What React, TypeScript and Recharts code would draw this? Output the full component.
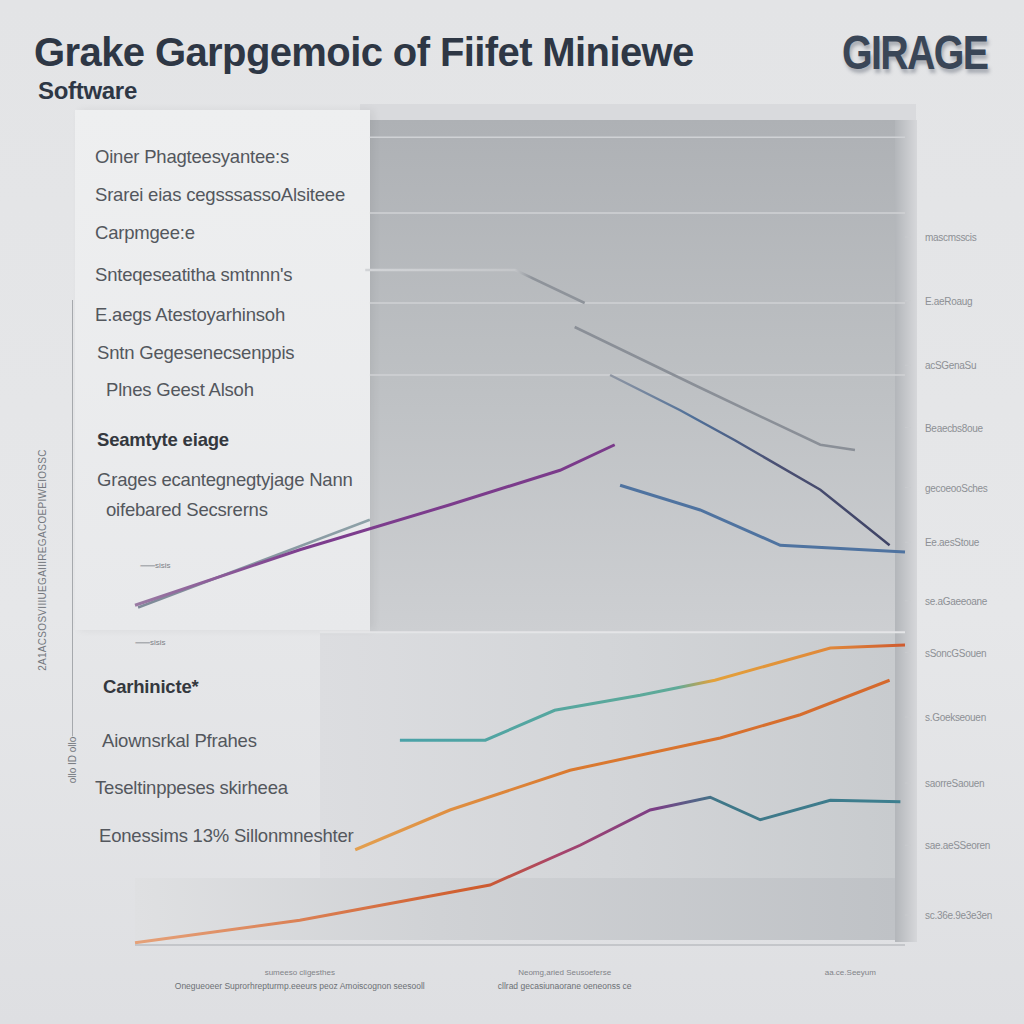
import { LineChart, Line, XAxis, YAxis, ReferenceLine } from 'recharts';

// values (x: 0-100 across the plot, y: 0-110 up the plot)
const greyUpper = [
  { x: 29.9, y: 90 },
  { x: 49.4, y: 90 },
  { x: 58.4, y: 85.6 },
];
const greyLower = [
  { x: 57.1, y: 82.4 },
  { x: 73, y: 74.5 },
  { x: 89, y: 66.7 },
  { x: 93.5, y: 66 },
];
const navyLine = [
  { x: 61.7, y: 76 },
  { x: 70.8, y: 71.3 },
  { x: 77.9, y: 67.3 },
  { x: 89, y: 60.7 },
  { x: 98, y: 53.3 },
];
const blueLine = [
  { x: 63, y: 61.3 },
  { x: 73.4, y: 58 },
  { x: 83.8, y: 53.3 },
  { x: 100, y: 52.4 },
];
const purpleLine = [
  { x: 0, y: 45.3 },
  { x: 21.4, y: 52.7 },
  { x: 40.9, y: 58.7 },
  { x: 55.2, y: 63.3 },
  { x: 62.3, y: 66.7 },
];
const slateLine = [
  { x: 0.4, y: 45 },
  { x: 30.5, y: 56.7 },
];
const tealOrangeLine = [
  { x: 34.4, y: 27.3 },
  { x: 45.5, y: 27.3 },
  { x: 54.5, y: 31.3 },
  { x: 65.6, y: 33.3 },
  { x: 75.3, y: 35.3 },
  { x: 90.3, y: 39.6 },
  { x: 100, y: 40 },
];
const orangeLine = [
  { x: 28.6, y: 12.7 },
  { x: 40.9, y: 18 },
  { x: 56.5, y: 23.3 },
  { x: 76, y: 27.6 },
  { x: 86.4, y: 30.7 },
  { x: 98, y: 35.3 },
];
const bottomLine = [
  { x: 0, y: 0.3 },
  { x: 21.4, y: 3.3 },
  { x: 46.1, y: 8 },
  { x: 57.8, y: 13.3 },
  { x: 66.9, y: 18 },
  { x: 74.7, y: 19.7 },
  { x: 81.2, y: 16.7 },
  { x: 90.3, y: 19.3 },
  { x: 99.4, y: 19.1 },
];

const rightTicks = [4, 13.3, 21.6, 30.4, 39, 45.9, 53.7, 61, 69, 77.3, 85.9, 94.4];
const rightLabels = [
  'sc.36e.9e3e3en',
  'sae.aeSSeoren',
  'saorreSaouen',
  's.Goekseouen',
  'sSoncGSouen',
  'se.aGaeeoane',
  'Ee.aesStoue',
  'gecoeooSches',
  'Beaecbs8oue',
  'acSGenaSu',
  'E.aeRoaug',
  'mascmsscis',
];

const gridLevels = [107.7, 97.6, 85.6, 76];

const bottomTicks = [21.4, 55.8, 92.9];
const bottomTop = ['sumeeso cligesthes', 'Neomg,aried Seusoeferse', 'aa.ce.Seeyum'];
const bottomBottom = [
  'Onegueoeer Suprorhrepturmp.eeeurs peoz Amoiscognon seesooll',
  'cllrad gecasiunaorane oeneonss ce',
  '',
];

const upperLabels = [
  'Oiner Phagteesyantee:s',
  'Srarei eias cegsssassoAlsiteee',
  'Carpmgee:e',
  "Snteqeseatitha smtnnn's",
  'E.aegs Atestoyarhinsoh',
  'Sntn Gegesenecsenppis',
  'Plnes Geest Alsoh',
  'Seamtyte eiage',
  'Grages ecantegnegtyjage Nann',
  'oifebared Secsrerns',
];
const upperTops = [157, 195, 233, 275, 315, 353, 390, 440, 480, 510];
const upperIndent = [95, 95, 95, 95, 95, 97, 106, 97, 97, 106];

const lowerLabels = [
  'Carhinicte*',
  'Aiownsrkal Pfrahes',
  'Teseltinppeses skirheea',
  'Eonessims 13% Sillonmneshter',
];
const lowerTops = [687, 741, 788, 836];
const lowerIndent = [103, 102, 95, 99];

const sans = "'Liberation Sans', Arial, sans-serif";

function RightTick(props: any) {
  const { x, y, payload, index } = props;
  return (
    <text x={x + 12} y={y} dy={4} fontSize={10} fill="#8d9095" fontFamily={sans} letterSpacing={-0.3}>
      {rightLabels[index] ?? payload.value}
    </text>
  );
}

function BottomTick(props: any) {
  const { x, y, index } = props;
  return (
    <g>
      <text x={x} y={y + 22} textAnchor="middle" fontSize={8} fill="#7f8388" fontFamily={sans}>
        {bottomTop[index]}
      </text>
      <text x={x} y={y + 36} textAnchor="middle" fontSize={8.5} fill="#6c7075" fontFamily={sans}>
        {bottomBottom[index]}
      </text>
    </g>
  );
}

function Label({ text, top, left, bold }: { text: string; top: number; left: number; bold?: boolean }) {
  return (
    <div
      style={{
        position: 'absolute',
        left,
        top: top - 11,
        fontFamily: sans,
        fontSize: 18.5,
        lineHeight: '22px',
        color: bold ? '#34383e' : '#53575d',
        fontWeight: bold ? 600 : 400,
        whiteSpace: 'nowrap',
        letterSpacing: -0.2,
      }}
    >
      {text}
    </div>
  );
}

export default function App() {
  return (
    <div
      style={{
        position: 'absolute',
        left: 0,
        top: 0,
        width: 1024,
        height: 1024,
        overflow: 'hidden',
        background: 'linear-gradient(180deg, #e3e4e6 0%, #e6e7e9 60%, #dedfe2 100%)',
      }}
    >
      {/* plot backgrounds */}
      <div
        style={{
          position: 'absolute',
          left: 360,
          top: 104,
          width: 556,
          height: 18,
          background: '#d9dadd',
        }}
      />
      <div
        style={{
          position: 'absolute',
          left: 370,
          top: 120,
          width: 525,
          height: 512,
          background: 'linear-gradient(180deg, #aeb1b5 0%, #bdc0c3 50%, #cdcfd2 100%)',
        }}
      />
      <div
        style={{
          position: 'absolute',
          left: 320,
          top: 632,
          width: 575,
          height: 246,
          background: 'linear-gradient(90deg, #dcdde0 0%, #d3d5d8 50%, #c8cbce 100%)',
        }}
      />
      <div
        style={{
          position: 'absolute',
          left: 135,
          top: 878,
          width: 760,
          height: 62,
          background: 'linear-gradient(90deg, #dfe0e2 0%, #d0d2d5 40%, #bfc2c6 100%)',
        }}
      />
      <div
        style={{
          position: 'absolute',
          left: 895,
          top: 120,
          width: 22,
          height: 822,
          background: 'linear-gradient(90deg, #b3b6ba 0%, #d6d7da 100%)',
        }}
      />
      {/* legend panel */}
      <div
        style={{
          position: 'absolute',
          left: 75,
          top: 110,
          width: 295,
          height: 520,
          background: 'linear-gradient(180deg, #eeeff0 0%, #e8e9eb 100%)',
          boxShadow: '4px 0 8px rgba(0,0,0,0.06)',
        }}
      />
      {/* left axis line */}
      <div style={{ position: 'absolute', left: 72, top: 300, width: 1, height: 470, background: '#a6a9ad' }} />

      <LineChart
        width={1024}
        height={1024}
        margin={{ top: 120, right: 19, bottom: 19, left: 135 }}
        style={{ position: 'absolute', left: 0, top: 0 }}
      >
        <defs>
          <linearGradient id="gGreyTop" x1="0" y1="0" x2="1" y2="0">
            <stop offset="0%" stopColor="#d2d4d7" />
            <stop offset="68%" stopColor="#c4c6c9" />
            <stop offset="76%" stopColor="#8e939a" />
            <stop offset="100%" stopColor="#8e939a" />
          </linearGradient>
          <linearGradient id="gNavy" x1="0" y1="0" x2="1" y2="0">
            <stop offset="0%" stopColor="#8f96a3" />
            <stop offset="30%" stopColor="#4f6f98" />
            <stop offset="60%" stopColor="#4a4f72" />
            <stop offset="100%" stopColor="#3f4466" />
          </linearGradient>
          <linearGradient id="gPurple" x1="0" y1="0" x2="1" y2="0">
            <stop offset="0%" stopColor="#9a7aa3" />
            <stop offset="35%" stopColor="#7d3d8e" />
            <stop offset="100%" stopColor="#7a3a8a" />
          </linearGradient>
          <linearGradient id="gTeal" x1="0" y1="0" x2="1" y2="0">
            <stop offset="0%" stopColor="#4aa2a8" />
            <stop offset="55%" stopColor="#5faa98" />
            <stop offset="62%" stopColor="#e3a13a" />
            <stop offset="85%" stopColor="#e0883a" />
            <stop offset="100%" stopColor="#cf5a2e" />
          </linearGradient>
          <linearGradient id="gOrange" x1="0" y1="0" x2="1" y2="0">
            <stop offset="0%" stopColor="#e3a050" />
            <stop offset="40%" stopColor="#da7a30" />
            <stop offset="100%" stopColor="#d5692d" />
          </linearGradient>
          <linearGradient id="gBottom" x1="0" y1="0" x2="1" y2="0">
            <stop offset="0%" stopColor="#e5a27a" />
            <stop offset="45%" stopColor="#cf5c2c" />
            <stop offset="55%" stopColor="#a8446a" />
            <stop offset="68%" stopColor="#7b3e86" />
            <stop offset="76%" stopColor="#3f7788" />
            <stop offset="100%" stopColor="#3d7f8f" />
          </linearGradient>
          <linearGradient id="gSlate" x1="0" y1="0" x2="1" y2="0">
            <stop offset="0%" stopColor="#7e8a98" />
            <stop offset="100%" stopColor="#8ea2a8" />
          </linearGradient>
        </defs>
        <XAxis
          type="number"
          dataKey="x"
          domain={[0, 100]}
          ticks={bottomTicks}
          tick={<BottomTick />}
          tickLine={false}
          axisLine={{ stroke: '#a9acb1' }}
          height={60}
          allowDuplicatedCategory={false}
        />
        <YAxis
          type="number"
          dataKey="y"
          orientation="right"
          domain={[0, 110]}
          ticks={rightTicks}
          tick={<RightTick />}
          tickLine={{ stroke: '#c9cbce' }}
          tickSize={6}
          axisLine={false}
          width={100}
        />
        {gridLevels.map((g) => (
          <ReferenceLine
            key={g}
            segment={[
              { x: 30.5, y: g },
              { x: 100, y: g },
            ]}
            stroke="#d0d2d5"
            strokeWidth={1.5}
          />
        ))}
        <ReferenceLine
          segment={[
            { x: 24, y: 41.7 },
            { x: 100, y: 41.7 },
          ]}
          stroke="#e4e5e7"
          strokeWidth={2}
        />
        <Line data={greyUpper} dataKey="y" stroke="url(#gGreyTop)" strokeWidth={2.5} dot={false} isAnimationActive={false} />
        <Line data={greyLower} dataKey="y" stroke="#8a8f97" strokeWidth={2.5} dot={false} isAnimationActive={false} />
        <Line data={navyLine} dataKey="y" stroke="url(#gNavy)" strokeWidth={2.5} dot={false} isAnimationActive={false} />
        <Line data={blueLine} dataKey="y" stroke="#4f73a0" strokeWidth={3} dot={false} isAnimationActive={false} />
        <Line data={slateLine} dataKey="y" stroke="url(#gSlate)" strokeWidth={2.5} dot={false} isAnimationActive={false} />
        <Line data={purpleLine} dataKey="y" stroke="url(#gPurple)" strokeWidth={3} dot={false} isAnimationActive={false} />
        <Line data={tealOrangeLine} dataKey="y" stroke="url(#gTeal)" strokeWidth={3} dot={false} isAnimationActive={false} />
        <Line data={orangeLine} dataKey="y" stroke="url(#gOrange)" strokeWidth={3} dot={false} isAnimationActive={false} />
        <Line data={bottomLine} dataKey="y" stroke="url(#gBottom)" strokeWidth={3} dot={false} isAnimationActive={false} />
      </LineChart>

      {/* title block */}
      <div
        style={{
          position: 'absolute',
          left: 34,
          top: 30,
          fontFamily: sans,
          fontSize: 40,
          lineHeight: '44px',
          fontWeight: 700,
          color: '#2e3745',
          whiteSpace: 'nowrap',
          letterSpacing: -0.6,
        }}
      >
        Grake Garpgemoic of Fiifet Miniewe
      </div>
      <div
        style={{
          position: 'absolute',
          left: 38,
          top: 78,
          fontFamily: sans,
          fontSize: 24,
          lineHeight: '26px',
          fontWeight: 700,
          color: '#2e3745',
          letterSpacing: -0.3,
        }}
      >
        Software
      </div>
      <div
        style={{
          position: 'absolute',
          left: 842,
          top: 26,
          fontFamily: sans,
          fontSize: 48,
          lineHeight: '54px',
          fontWeight: 700,
          color: '#3a4657',
          letterSpacing: -2,
          transform: 'scaleX(0.82)',
          transformOrigin: 'left center',
          textShadow: '2px 4px 4px rgba(60,70,85,0.35)',
        }}
      >
        GIRAGE
      </div>

      {upperLabels.map((t, i) => (
        <Label key={t} text={t} top={upperTops[i]} left={upperIndent[i]} bold={i === 7} />
      ))}
      {lowerLabels.map((t, i) => (
        <Label key={t} text={t} top={lowerTops[i]} left={lowerIndent[i]} bold={i === 0} />
      ))}

      {/* small markers near line starts */}
      <div style={{ position: 'absolute', left: 140, top: 559, fontFamily: sans, fontSize: 8, color: '#7c8086' }}>
        ⸺sisis
      </div>
      <div style={{ position: 'absolute', left: 135, top: 636, fontFamily: sans, fontSize: 8, color: '#7c8086' }}>
        ⸺sisis
      </div>

      {/* rotated left-axis text */}
      <div
        style={{
          position: 'absolute',
          left: 42,
          top: 560,
          transform: 'translate(-50%, -50%) rotate(-90deg)',
          fontFamily: sans,
          fontSize: 10,
          color: '#74787e',
          whiteSpace: 'nowrap',
          letterSpacing: 0.3,
        }}
      >
        2A1ACSOSVIIIUEGAIIIREGACOEPIWEIOSSC
      </div>
      <div
        style={{
          position: 'absolute',
          left: 72,
          top: 760,
          transform: 'translate(-50%, -50%) rotate(-90deg)',
          fontFamily: sans,
          fontSize: 10,
          color: '#74787e',
          whiteSpace: 'nowrap',
          background: '#e4e5e7',
        }}
      >
        ollo ID ollo
      </div>
    </div>
  );
}
